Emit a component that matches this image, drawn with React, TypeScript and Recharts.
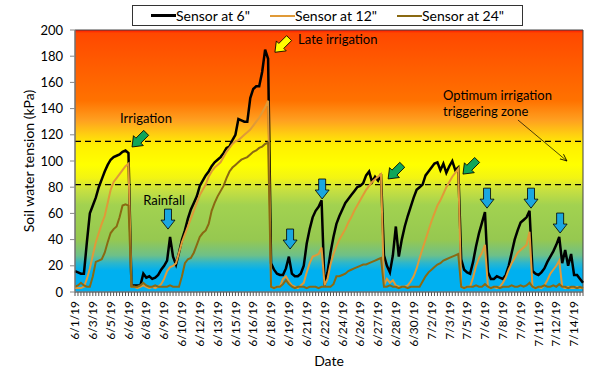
import React from 'react';
import { LineChart, Line, XAxis, YAxis, ReferenceArea, ReferenceLine, ReferenceDot, Label } from 'recharts';

const FONT = 'Lato, "Open Sans", sans-serif';

// one label every 6 readings
const tickLabels = [
  '6/1/19', '6/3/19', '6/5/19', '6/6/19', '6/8/19', '6/9/19', '6/10/19', '6/12/19', '6/13/19', '6/15/19',
  '6/16/19', '6/18/19', '6/19/19', '6/21/19', '6/22/19', '6/24/19', '6/26/19', '6/27/19', '6/28/19', '6/30/19',
  '7/2/19', '7/3/19', '7/5/19', '7/6/19', '7/8/19', '7/9/19', '7/11/19', '7/12/19', '7/14/19',
];
const PER_LABEL = 6;

const sensor6 = [
  16, 15, 14, 14, 38, 60, 66, 72, 80, 86,
  92, 97, 101, 103, 104, 105, 107, 108, 106, 5,
  5, 5, 5, 14, 11, 12, 10, 11, 13, 17,
  20, 24, 42, 27, 21, 30, 40, 47, 56, 63,
  68, 73, 81, 85, 89, 92, 96, 99, 101, 103,
  106, 110, 111, 116, 120, 132, 131, 130, 130, 148,
  155, 157, 157, 168, 185, 178, 22, 17, 14, 13,
  13, 18, 27, 14, 12, 12, 14, 20, 37, 48,
  57, 62, 65, 70, 5, 15, 30, 42, 52, 58,
  63, 68, 71, 74, 77, 80, 81, 83, 89, 92,
  84, 88, 85, 90, 28, 20, 15, 28, 50, 27,
  40, 50, 58, 65, 72, 78, 80, 82, 89, 92,
  95, 98, 99, 93, 98, 91, 96, 100, 93, 95,
  25, 17, 15, 14, 23, 35, 45, 53, 61, 15,
  10, 10, 12, 11, 10, 13, 20, 30, 40, 47,
  53, 55, 57, 62, 16, 14, 13, 15, 18, 23,
  27, 31, 36, 42, 22, 32, 20, 29, 13, 13,
  10, 7,
];

const sensor12 = [
  3, 3, 3, 4, 10, 18, 28, 38, 45, 52,
  58, 68, 78, 84, 87, 90, 93, 96, 98, 4,
  4, 3, 4, 5, 4, 3, 4, 3, 4, 6,
  10, 16, 19, 20, 22, 30, 38, 44, 50, 56,
  62, 68, 74, 78, 82, 88, 92, 95, 97, 99,
  103, 107, 110, 113, 115, 116, 118, 120, 122, 124,
  127, 130, 133, 137, 141, 146, 4, 3, 4, 4,
  10, 12, 8, 5, 4, 3, 5, 7, 15, 22,
  27, 28, 29, 34, 5, 10, 21, 29, 35, 40,
  44, 48, 53, 57, 62, 66, 70, 74, 78, 81,
  84, 86, 88, 90, 5, 10, 7, 9, 5, 4,
  4, 4, 5, 8, 12, 18, 26, 33, 40, 47,
  54, 60, 66, 70, 75, 80, 84, 88, 91, 94,
  4, 3, 4, 4, 11, 20, 26, 30, 36, 4,
  3, 4, 3, 4, 7, 11, 17, 22, 26, 30,
  32, 34, 36, 46, 4, 3, 4, 3, 5, 9,
  14, 17, 20, 24, 4, 3, 4, 3, 3, 4,
  3, 3,
];

const sensor24 = [
  4, 5, 7, 5, 4, 4, 12, 23, 24, 25,
  30, 38, 45, 48, 50, 57, 66, 67, 66, 4,
  4, 4, 5, 7, 5, 4, 4, 5, 4, 4,
  4, 4, 5, 4, 4, 4, 12, 22, 25, 26,
  30, 36, 42, 45, 47, 52, 62, 68, 73, 77,
  81, 87, 92, 95, 97, 99, 101, 102, 103, 105,
  107, 108, 110, 111, 113, 114, 4, 3, 4, 4,
  6, 9, 6, 4, 3, 4, 4, 4, 3, 4,
  4, 4, 3, 4, 4, 4, 4, 6, 12, 12,
  13, 14, 16, 17, 18, 19, 20, 21, 21, 22,
  23, 24, 25, 26, 4, 4, 5, 4, 4, 3,
  4, 4, 3, 4, 4, 4, 4, 8, 12, 15,
  17, 19, 21, 22, 24, 25, 26, 27, 28, 29,
  4, 3, 4, 4, 4, 5, 4, 4, 6, 4,
  3, 4, 4, 3, 4, 4, 4, 5, 4, 4,
  5, 4, 5, 7, 4, 3, 4, 4, 5, 4,
  4, 5, 4, 6, 4, 4, 3, 4, 4, 3,
  4, 3,
];

const zoneLines = [115, 82];

const rows = sensor6.map((v, i) => ({ idx: i, s6: v, s12: sensor12[i], s24: sensor24[i] }));
const lastIdx = rows.length - 1;
const xTicks = rows.map((r) => r.idx);
const yTicks = [0, 20, 40, 60, 80, 100, 120, 140, 160, 180, 200];

const series = [
  { key: 's6', name: 'Sensor at 6"', color: '#000000', width: 2.5 },
  { key: 's12', name: 'Sensor at 12"', color: '#E09A38', width: 2 },
  { key: 's24', name: 'Sensor at 24"', color: '#8A6912', width: 2 },
];

// block arrows: tip position in chart units
const arrows = [
  { idx: 19.2, val: 110.7, color: '#0FA65A', angle: 45 },
  { idx: 31.3, val: 48, color: '#1AA7E0', angle: 0 },
  { idx: 67.3, val: 183, color: '#FFFF00', angle: 45 },
  { idx: 72.4, val: 32.8, color: '#1AA7E0', angle: 0 },
  { idx: 83.2, val: 71, color: '#1AA7E0', angle: 0 },
  { idx: 105.4, val: 86.3, color: '#0FA65A', angle: 45 },
  { idx: 130.6, val: 90, color: '#0FA65A', angle: 45 },
  { idx: 138.7, val: 64, color: '#1AA7E0', angle: 0 },
  { idx: 153.5, val: 64, color: '#1AA7E0', angle: 0 },
  { idx: 163.3, val: 45, color: '#1AA7E0', angle: 0 },
];

const notes = [
  { idx: 23.9, val: 133, text: ['Irrigation'], anchor: 'middle' },
  { idx: 30, val: 70, text: ['Rainfall'], anchor: 'middle' },
  { idx: 75.1, val: 193, text: ['Late irrigation'], anchor: 'start' },
  { idx: 123.9, val: 150.4, text: ['Optimum irrigation', 'triggering zone'], anchor: 'start' },
];

const bgStops = [
  [0, '#ff1400'], [0.012, '#ff4800'], [0.12, '#ff5a00'], [0.27, '#ff7200'],
  [0.345, '#ffa020'], [0.4, '#ffd010'], [0.44, '#fff000'], [0.515, '#ffff00'],
  [0.565, '#f2f414'], [0.61, '#c8e040'], [0.668, '#a2d250'], [0.8, '#96c850'],
  [0.86, '#6ec088'], [0.89, '#2cb6cc'], [0.918, '#00b0f0'], [1, '#00b0f0'],
];

const DateTick = (props: any) => {
  const { x, y, payload } = props;
  const i = payload.value;
  const label = i % PER_LABEL === 0 ? tickLabels[i / PER_LABEL] : null;
  return (
    <g>
      <line x1={x} y1={y} x2={x} y2={y + 4} stroke="#555" strokeWidth={1} />
      {label && (
        <text
          x={x}
          y={y + 9}
          transform={`rotate(-90 ${x} ${y + 9})`}
          textAnchor="end"
          dy="0.35em"
          fontSize={12}
          fontFamily={FONT}
          fill="#000"
        >
          {label}
        </text>
      )}
    </g>
  );
};

const arrowShape = (a: any) => (p: any) => (
  <polygon
    points="0,0 7,-9 3.5,-9 3.5,-20 -3.5,-20 -3.5,-9 -7,-9"
    transform={`translate(${p.cx},${p.cy}) rotate(${a.angle})`}
    fill={a.color}
    stroke="#000"
    strokeWidth={0.8}
  />
);

const noteShape = (n: any) => (p: any) => (
  <text x={p.cx} y={p.cy} textAnchor={n.anchor} fontSize={13} fontFamily={FONT} fill="#000" dominantBaseline="central">
    {n.text.map((t: string, k: number) => (
      <tspan key={k} x={p.cx} dy={k === 0 ? 0 : 16}>
        {t}
      </tspan>
    ))}
  </text>
);

const pointerShape = (p: any) => (
  <line x1={p.x1} y1={p.y1} x2={p.x2} y2={p.y2} stroke="#000" strokeWidth={0.7} markerEnd="url(#tip)" />
);

const ChartLegend = () => (
  <div
    style={{
      position: 'absolute',
      left: 132,
      top: 5,
      width: 389,
      height: 19,
      border: '1px solid #333',
      background: '#fff',
      display: 'flex',
      alignItems: 'center',
      justifyContent: 'center',
      gap: 20,
      fontFamily: FONT,
      fontSize: 14,
    }}
  >
    {series.map((s) => (
      <div key={s.key} style={{ display: 'flex', alignItems: 'center' }}>
        <span style={{ display: 'inline-block', width: 25, height: s.key === 's6' ? 3 : 2, background: s.color }} />
        <span>{s.name}</span>
      </div>
    ))}
  </div>
);

export default function App() {
  return (
    <div style={{ position: 'absolute', left: 0, top: 0, width: 600, height: 379, background: '#fff' }}>
      <LineChart width={600} height={379} data={rows} margin={{ top: 30, right: 17, bottom: 0, left: 0 }}>
        <defs>
          <linearGradient id="bg" x1="0" y1="0" x2="0" y2="1">
            {bgStops.map(([o, c]) => (
              <stop key={String(o)} offset={o as number} stopColor={c as string} />
            ))}
          </linearGradient>
          <marker id="tip" markerWidth="8" markerHeight="8" refX="7" refY="4" orient="auto" markerUnits="userSpaceOnUse">
            <path d="M0,1 L7,4 L0,7" fill="none" stroke="#000" strokeWidth={0.8} />
          </marker>
        </defs>
        <ReferenceArea x1={0} x2={lastIdx} y1={0} y2={200} fill="url(#bg)" fillOpacity={1} stroke="#444" strokeWidth={1} />
        <XAxis
          type="number"
          dataKey="idx"
          domain={[0, lastIdx]}
          ticks={xTicks}
          interval={0}
          tick={<DateTick />}
          tickLine={false}
          tickSize={0}
          tickMargin={0}
          height={87}
          axisLine={{ stroke: '#888' }}
        >
          <Label
            content={(p: any) => (
              <text x={p.viewBox.x + p.viewBox.width / 2} y={360} textAnchor="middle" dominantBaseline="central" fontSize={14} fontFamily={FONT} fill="#000">
                Date
              </text>
            )}
          />
        </XAxis>
        <YAxis
          domain={[0, 200]}
          ticks={yTicks}
          interval={0}
          width={75}
          tickSize={5}
          tickMargin={7}
          tick={{ fontSize: 13, fill: '#000', fontFamily: FONT }}
          axisLine={{ stroke: '#888' }}
          tickLine={{ stroke: '#888' }}
        >
          <Label
            content={(p: any) => {
              const cy = p.viewBox.y + p.viewBox.height / 2;
              return (
                <text x={28} y={cy} transform={`rotate(-90 28 ${cy})`} textAnchor="middle" dominantBaseline="central" fontSize={14} fontFamily={FONT} fill="#000">
                  Soil water tension (kPa)
                </text>
              );
            }}
          />
        </YAxis>
        {zoneLines.map((v) => (
          <ReferenceLine key={v} y={v} stroke="#000" strokeWidth={1.3} strokeDasharray="6 4" />
        ))}
        {series.map((s) => (
          <Line
            key={s.key}
            dataKey={s.key}
            name={s.name}
            stroke={s.color}
            strokeWidth={s.width}
            dot={false}
            type="linear"
            isAnimationActive={false}
          />
        ))}
        <ReferenceLine
          segment={[{ x: 149.1, y: 131.3 }, { x: 165.6, y: 100 }]}
          shape={pointerShape}
          ifOverflow="visible"
        />
        {arrows.map((a, k) => (
          <ReferenceDot key={'a' + k} x={a.idx} y={a.val} r={0} ifOverflow="visible" shape={arrowShape(a)} />
        ))}
        {notes.map((n, k) => (
          <ReferenceDot key={'n' + k} x={n.idx} y={n.val} r={0} ifOverflow="visible" shape={noteShape(n)} />
        ))}
      </LineChart>
      <ChartLegend />
    </div>
  );
}
